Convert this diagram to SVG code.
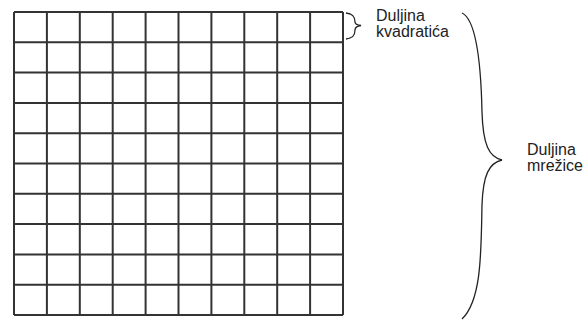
<svg xmlns="http://www.w3.org/2000/svg" width="584" height="322" viewBox="0 0 584 322">
<style>
.g{stroke:#333;stroke-width:2;fill:none}
.b{stroke:#222;stroke-width:1.3;fill:none}
text{font-family:"Liberation Sans",Arial,sans-serif;font-size:16px;fill:#222}
</style>
<rect width="584" height="322" fill="#fff"/>
<g id="grid">
<path class="g" d="M14,12V315M46.9,12V315M79.8,12V315M112.7,12V315M145.6,12V315M178.5,12V315M211.4,12V315M244.3,12V315M277.2,12V315M310.1,12V315M343,12V315"/>
<path class="g" d="M14,12H343M14,42.3H343M14,72.6H343M14,102.9H343M14,133.2H343M14,163.5H343M14,193.8H343M14,224.1H343M14,254.4H343M14,284.7H343M14,315H343"/>
</g>
<g id="connectors">
<path class="b" d="M346,13C354,14 355,18 355,22C355,24 357,25 361,25.5C357,26 355,27 355,30C355,34 354,38 346,39"/>
<path class="b" d="M462,13C477,20 481,65 482,112C483,145 489,157 502,160C489,163 483,175 482,205C481,250 482,300 462,319"/>
</g>
<g id="small-label">
<text x="376" y="21">Duljina</text>
<text x="376" y="37">kvadratića</text>
</g>
<g id="big-label">
<text x="527" y="155">Duljina</text>
<text x="527" y="171">mrežice</text>
</g>
</svg>
